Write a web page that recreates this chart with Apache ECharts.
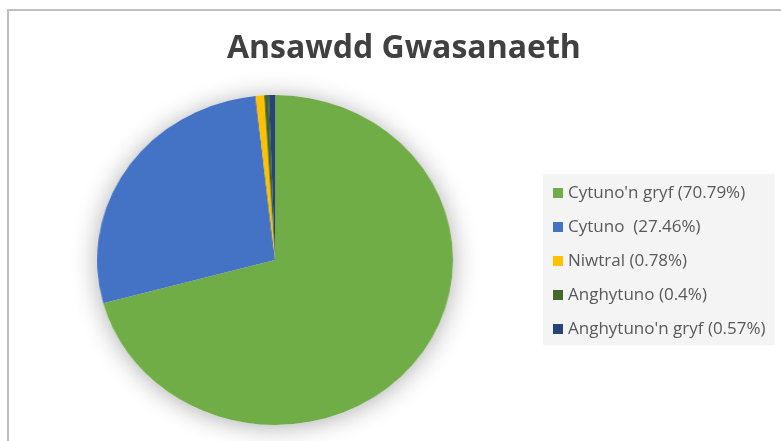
<!DOCTYPE html>
<html>
<head>
<meta charset="utf-8">
<script src="https://cdn.jsdelivr.net/npm/echarts@6/dist/echarts.min.js"></script>
<style>
  html, body { margin: 0; padding: 0; background: #ffffff; }
  #wrap { position: relative; width: 781px; height: 441px; overflow: hidden; background: #fff; }
  #frame { position: absolute; left: 7px; top: 9px; width: 800px; height: 500px;
           border-top: 2px solid #bfbfbf; border-left: 2px solid #bfbfbf; box-sizing: border-box; }
  #pie { position: absolute; left: 75px; top: 60px; width: 400px; height: 400px;
         transform: scaleX(1.0788); transform-origin: 50% 50%; }
  #main { position: absolute; left: 0; top: 0; width: 781px; height: 441px; }
</style>
</head>
<body>
<div id="wrap">
  <div id="frame"></div>
  <div id="pie"></div>
  <div id="main"></div>
</div>
<script>
const titleText = "Ansawdd Gwasanaeth";
const categories = ["Cytuno'n gryf", "Cytuno ", "Niwtral", "Anghytuno", "Anghytuno'n gryf"];
const values = [70.79, 27.46, 0.78, 0.4, 0.57];
const colors = ["#70AD47", "#4472C4", "#FFC000", "#43682B", "#264478"];

const legendNames = categories.map((c, i) => c + " (" + values[i] + "%)");
const seriesData = legendNames.map((n, i) => ({ name: n, value: values[i], itemStyle: { color: colors[i] } }));

// Pie (stretched slightly horizontally to match the reference's oval)
const pieChart = echarts.init(document.getElementById('pie'), null, { renderer: 'canvas' });
pieChart.setOption({
  animation: false,
  series: [
    {
      type: 'pie', silent: true, radius: 165, center: ['50%', '50%'], z: 1,
      label: { show: false }, labelLine: { show: false },
      itemStyle: { color: '#ffffff', shadowBlur: 24, shadowColor: 'rgba(0,0,0,0.32)', shadowOffsetY: 2 },
      data: [{ value: 1 }]
    },
    {
      type: 'pie', radius: 165, center: ['50%', '50%'], z: 2,
      startAngle: 90, clockwise: true,
      label: { show: false }, labelLine: { show: false },
      emphasis: { disabled: true },
      itemStyle: { borderWidth: 0 },
      data: seriesData
    }
  ]
});

// Title and legend
const mainChart = echarts.init(document.getElementById('main'), null, { renderer: 'canvas' });
mainChart.setOption({
  animation: false,
  backgroundColor: 'transparent',
  title: {
    text: titleText,
    left: 222,
    top: 28,
    textStyle: { fontFamily: 'Open Sans', fontWeight: 'bold', fontSize: 32, color: '#404040' }
  },
  legend: {
    orient: 'vertical',
    left: 543,
    top: 174,
    backgroundColor: '#f4f4f4',
    padding: [9, 9, 6, 10],
    itemWidth: 10,
    itemHeight: 10,
    itemGap: 14,
    icon: 'rect',
    textStyle: { fontFamily: 'Open Sans', fontSize: 17, color: '#595959', lineHeight: 20, padding: [0, 0, 0, 0] },
    data: legendNames
  },
  series: [
    {
      type: 'pie', radius: [0, 0], center: [-100, -100], silent: true,
      label: { show: false }, labelLine: { show: false },
      data: seriesData
    }
  ]
});
</script>
</body>
</html>
